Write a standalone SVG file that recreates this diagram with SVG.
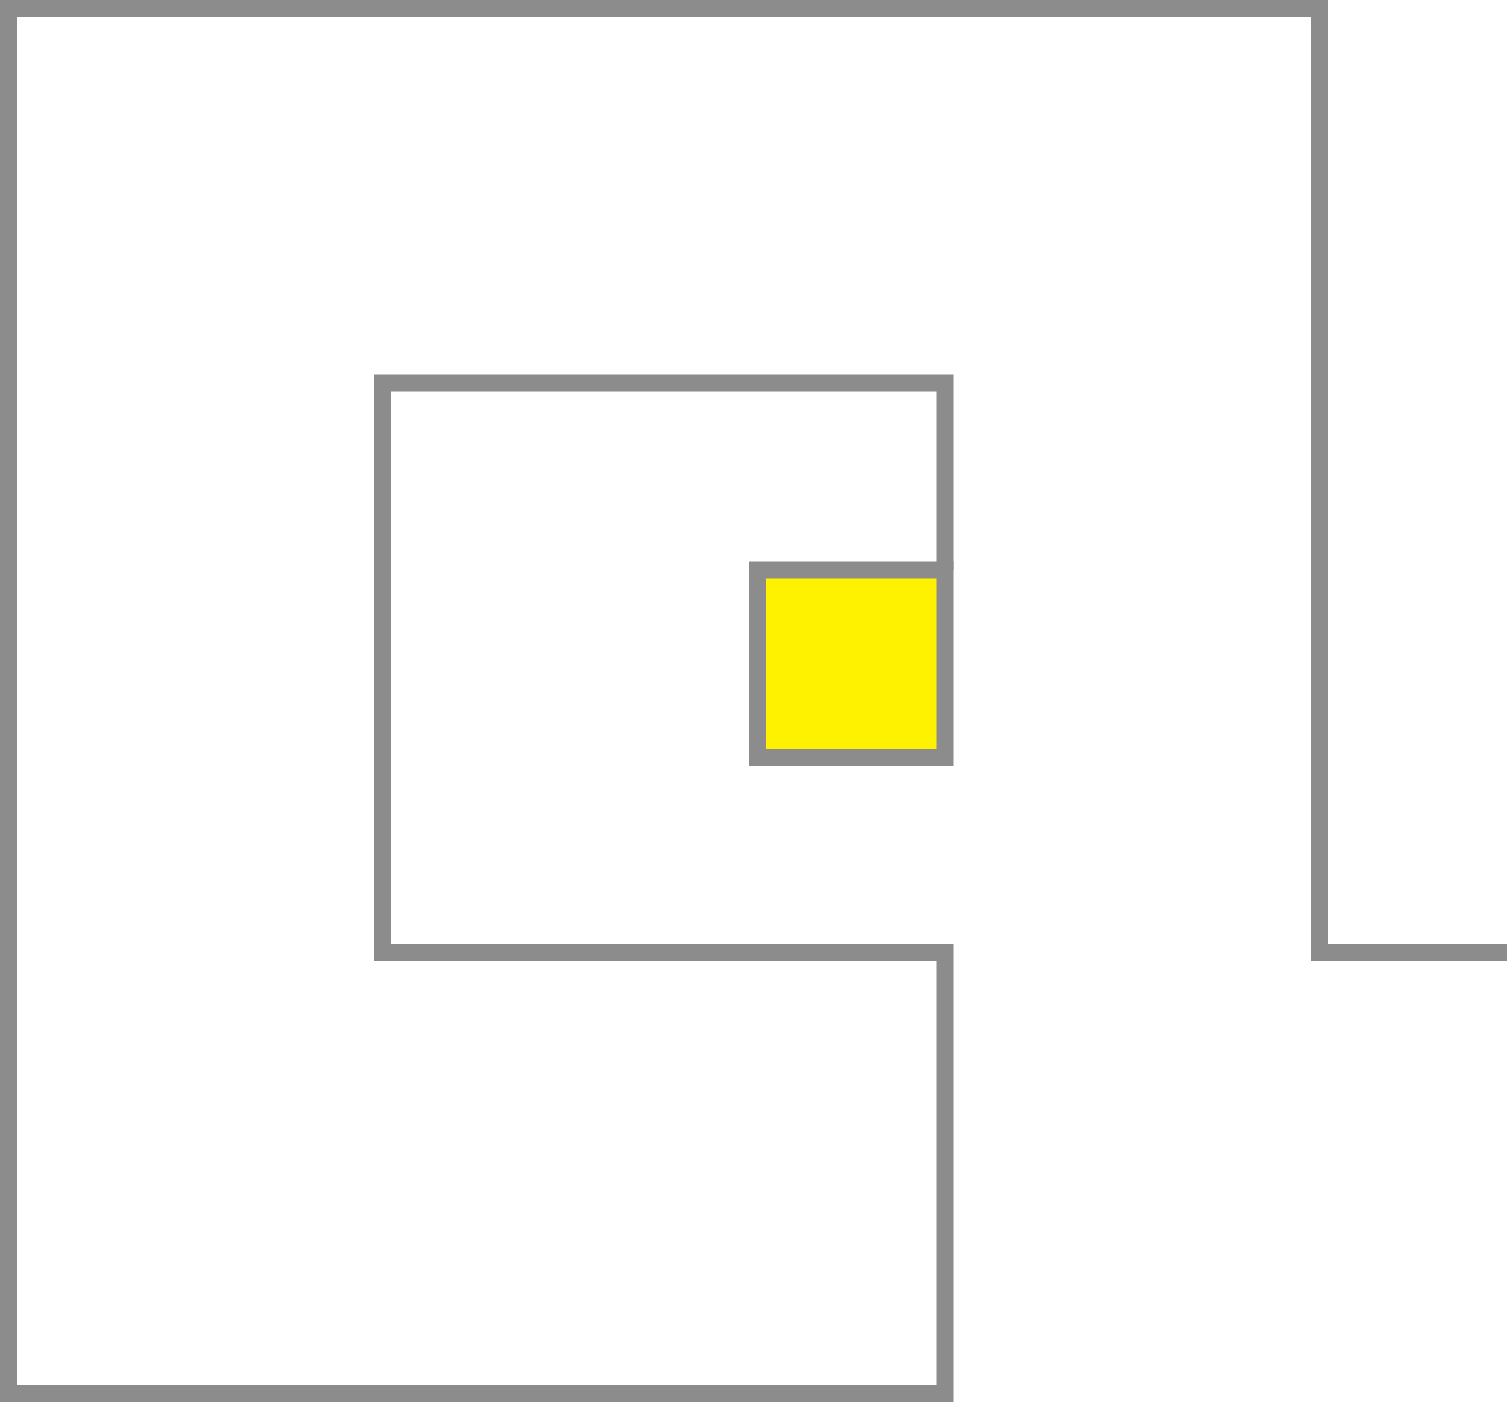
<svg xmlns="http://www.w3.org/2000/svg" width="1507" height="1403" viewBox="0 0 1507 1403">
<style>
.wall{fill:none;stroke:#8c8c8c;stroke-width:17;stroke-linejoin:miter;stroke-linecap:butt}
</style>
<rect width="1507" height="1403" fill="#ffffff"/>
<g id="walls">
<path class="wall" d="M945,570 V383 H382.5 V952.5 H945 V1393.5 H8.5 V8.5 H1319.5 V952.5 H1507"/>
</g>
<g id="target">
<rect x="757.5" y="570" width="187.5" height="187.5" fill="#fff200" stroke="#8c8c8c" stroke-width="17"/>
</g>
</svg>
